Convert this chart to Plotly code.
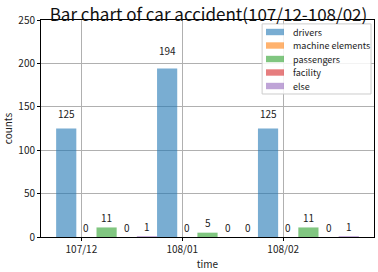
import plotly.graph_objects as go

months = ["107/12", "108/01", "108/02"]
series_names = ["drivers", "machine elements", "passengers", "facility", "else"]
drivers = [125, 194, 125]
machine_elements = [0, 0, 0]
passengers = [11, 5, 11]
facility = [0, 0, 0]
other = [1, 0, 1]
colors = ["31,119,180", "255,127,14", "44,160,44", "214,39,40", "148,103,189"]

values = [drivers, machine_elements, passengers, facility, other]
FONT = "Noto Sans CJK TC"

fig = go.Figure()
bw = 0.2
annotations = []
for i, (name, vals) in enumerate(zip(series_names, values)):
    off = -0.25 + i * bw
    fig.add_trace(go.Bar(
        x=months, y=vals, name=name,
        offset=off, width=bw,
        marker=dict(color=f"rgba({colors[i]},0.6)", line=dict(width=0)),
        showlegend=False,
    ))
    for j, v in enumerate(vals):
        annotations.append(dict(
            x=j + off + bw / 2, y=v * 1.05, xref="x", yref="y",
            text=str(v), showarrow=False, yanchor="bottom", xanchor="center",
            font=dict(size=10, color="#222"), yshift=0,
        ))

# legend drawn as shapes + text (matplotlib-style)
shapes = [dict(type="rect", xref="paper", yref="paper",
               x0=0.664, x1=0.991, y0=0.659, y1=0.982,
               fillcolor="rgba(255,255,255,0.85)", line=dict(color="#cccccc", width=1),
               layer="above")]
px_per_paper_y = 217.0
for i, name in enumerate(series_names):
    cy = 0.9447 - i * (13.5 / px_per_paper_y)
    h = 3.2 / px_per_paper_y
    shapes.append(dict(type="rect", xref="paper", yref="paper",
                       x0=0.6757, x1=0.7297, y0=cy - h, y1=cy + h,
                       fillcolor=f"rgba({colors[i]},0.6)", line=dict(width=0),
                       layer="above"))
    annotations.append(dict(x=0.7508, y=cy, xref="paper", yref="paper",
                            text=name, showarrow=False, xanchor="left", yanchor="middle",
                            font=dict(size=9, color="#222")))

fig.update_layout(
    width=378, height=272,
    margin=dict(l=41, r=4, t=20, b=35),
    paper_bgcolor="white", plot_bgcolor="white",
    font=dict(family=FONT, size=10, color="#222"),
    barmode="overlay",
    title=dict(text="Bar chart of car accident(107/12-108/02)", x=0.5516, xanchor="center",
               y=0.945, yanchor="middle", font=dict(size=17, color="#111")),
    showlegend=False,
    shapes=shapes,
    annotations=annotations,
    xaxis=dict(range=[-0.4, 2.9], showgrid=True, gridcolor="#b0b0b0", gridwidth=1,
               showline=True, linecolor="black", linewidth=1, mirror=True,
               ticks="outside", ticklen=3, tickcolor="black",
               title=dict(text="time", font=dict(size=10), standoff=4)),
    yaxis=dict(range=[0, 250], dtick=50, showgrid=True, gridcolor="#b0b0b0", gridwidth=1,
               showline=True, linecolor="black", linewidth=1, mirror=True,
               ticks="outside", ticklen=3, tickcolor="black", zeroline=False,
               title=dict(text="counts", font=dict(size=10), standoff=6)),
)

fig.write_html("out.html")
